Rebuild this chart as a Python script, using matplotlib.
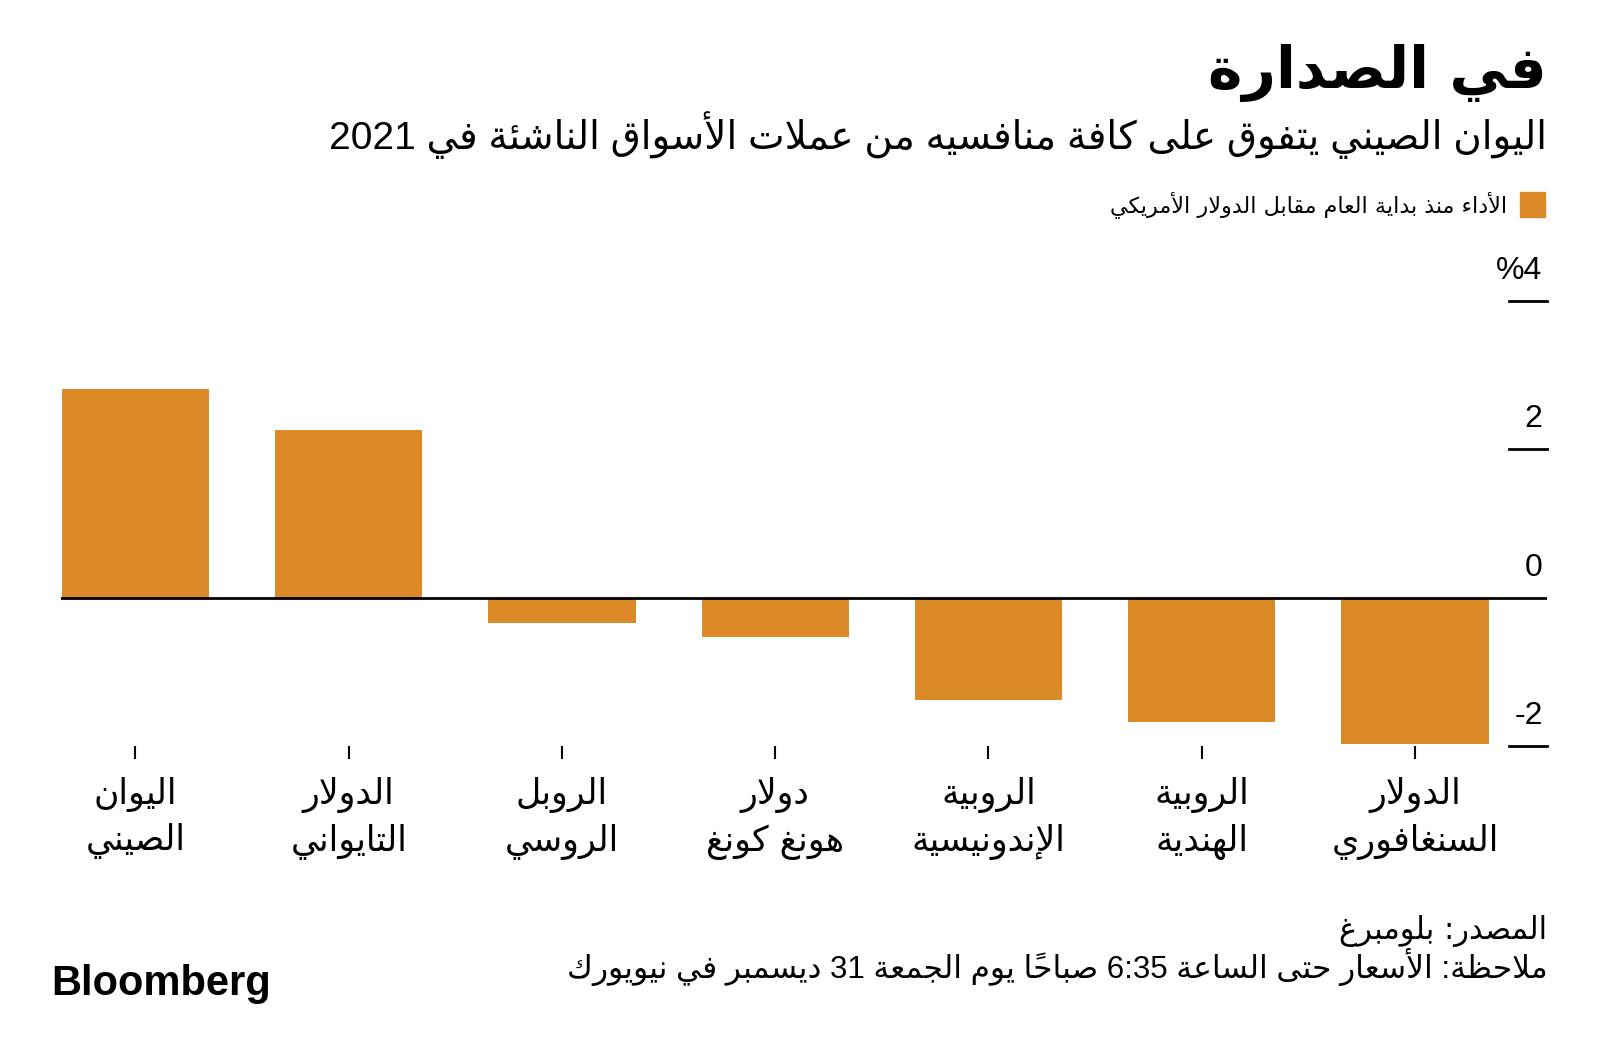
import matplotlib.pyplot as plt
import matplotlib.transforms as mtransforms

# data
names_top = ["اليوان", "الدولار", "الروبل", "دولار", "الروبية", "الروبية", "الدولار"]
names_bottom = ["الصيني", "التايواني", "الروسي", "هونغ كونغ", "الإندونيسية", "الهندية", "السنغافوري"]
ytd_change = [2.82, 2.26, -0.34, -0.53, -1.38, -1.67, -1.97]
y_ticks = [-2, 0, 2, 4]
y_tick_labels = ["-2", "0", "2", "%4"]

title = "في الصدارة"
subtitle = "اليوان الصيني يتفوق على كافة منافسيه من عملات الأسواق الناشئة في 2021"
legend_label = "الأداء منذ بداية العام مقابل الدولار الأمريكي"
source = "المصدر: بلومبرغ"
note = "ملاحظة: الأسعار حتى الساعة 6:35 صباحاً يوم الجمعة 31 ديسمبر في نيويورك"

ORANGE = "#DB8A27"
AR = ["DejaVu Sans"]
MIX = ["Liberation Sans", "DejaVu Sans"]

# --- minimal arabic shaping (matplotlib has no text layout engine) ---
_right = {'آ': 0xFE81, 'أ': 0xFE83, 'ؤ': 0xFE85, 'إ': 0xFE87, 'ا': 0xFE8D, 'ة': 0xFE93,
          'د': 0xFEA9, 'ذ': 0xFEAB, 'ر': 0xFEAD, 'ز': 0xFEAF, 'و': 0xFEED, 'ى': 0xFEEF}
_dual = {'ئ': 0xFE89, 'ب': 0xFE8F, 'ت': 0xFE95, 'ث': 0xFE99, 'ج': 0xFE9D, 'ح': 0xFEA1,
         'خ': 0xFEA5, 'س': 0xFEB1, 'ش': 0xFEB5, 'ص': 0xFEB9, 'ض': 0xFEBD, 'ط': 0xFEC1,
         'ظ': 0xFEC5, 'ع': 0xFEC9, 'غ': 0xFECD, 'ف': 0xFED1, 'ق': 0xFED5, 'ك': 0xFED9,
         'ل': 0xFEDD, 'م': 0xFEE1, 'ن': 0xFEE5, 'ه': 0xFEE9, 'ي': 0xFEF1}
_lamalef = {'آ': 0xFEF5, 'أ': 0xFEF7, 'إ': 0xFEF9, 'ا': 0xFEFB}


def shape(text):
    clusters = []
    for c in text:
        if '\u064B' <= c <= '\u0652' and clusters:
            clusters[-1] += c
        else:
            clusters.append(c)
    shaped = []
    j = 0
    while j < len(clusters):
        c, marks = clusters[j][0], clusters[j][1:]
        prev = clusters[j - 1][0] if j > 0 else ''
        nxt = clusters[j + 1][0] if j + 1 < len(clusters) else ''
        p = prev in _dual
        if c == 'ل' and nxt in _lamalef:
            shaped.append(chr(_lamalef[nxt] + (1 if p else 0)) + marks + clusters[j + 1][1:])
            j += 2
            continue
        if c in _dual:
            nx = nxt in _dual or nxt in _right
            form = (3 if nx else 1) if p else (2 if nx else 0)
            shaped.append(chr(_dual[c] + form) + marks)
        elif c in _right:
            shaped.append(chr(_right[c] + (1 if p else 0)) + marks)
        elif c == 'ء':
            shaped.append('\uFE80' + marks)
        else:
            shaped.append(clusters[j])
        j += 1
    runs = []
    for i, s in enumerate(shaped):
        ch = s[0]
        ltr = ch.isdigit() or (ch in ':.' and 0 < i < len(shaped) - 1
                               and shaped[i - 1][0].isdigit() and shaped[i + 1][0].isdigit())
        if ltr and runs and runs[-1][0]:
            runs[-1][1].append(s)
        else:
            runs.append([ltr, [s]])
    return ''.join(''.join(r[1]) for r in reversed(runs))


fig = plt.figure(figsize=(16, 10.6), dpi=100)
ax = fig.add_axes([0.038, 0.296, 0.929, 0.42])

x = list(range(len(ytd_change)))
ax.bar(x, ytd_change, width=0.69, color=ORANGE, zorder=2)
ax.set_xlim(-0.35, 6.62)
ax.set_ylim(-2, 4)

ax.axhline(0, color="black", lw=2, zorder=3)
ytrans = mtransforms.blended_transform_factory(ax.transAxes, ax.transData)
for v, lab in zip(y_ticks, y_tick_labels):
    if v != 0:
        ax.axhline(v, xmin=0.974, xmax=1, color="black", lw=2, zorder=3, clip_on=False)
    ax.text(0.997, v + 0.3, lab, transform=ytrans, ha="right", va="baseline", fontsize=23, family=MIX)

for s in ax.spines.values():
    s.set_visible(False)
ax.set_yticks([])
ax.set_xticks(x)
ax.set_xticklabels([shape(a) + "\n" + shape(b) for a, b in zip(names_top, names_bottom)],
                   family=AR, fontsize=25, linespacing=1.4)
ax.tick_params(axis="x", length=9, width=1.5, pad=13, colors="black")

# header
fig.text(0.967, 0.917, shape(title), ha="right", va="baseline", fontsize=42, weight="bold", family=AR)
fig.text(0.967, 0.859, shape(subtitle), ha="right", va="baseline", fontsize=28, family=MIX)
fig.patches.append(plt.Rectangle((1520 / 1600, 1 - 217 / 1060), 25 / 1600, 25 / 1060,
                                 transform=fig.transFigure, color=ORANGE))
fig.text(1507 / 1600, 1 - 212 / 1060, shape(legend_label), ha="right", va="baseline", fontsize=16, family=AR)

# footer
fig.text(0.967, 1 - 939 / 1060, shape(source), ha="right", va="baseline", fontsize=22, family=AR)
fig.text(0.967, 1 - 978 / 1060, shape(note), ha="right", va="baseline", fontsize=22.5, family=MIX)
fig.text(51 / 1600, 1 - 995 / 1060, "Bloomberg", ha="left", va="baseline", fontsize=30, weight="bold",
         family="Liberation Sans")

fig.savefig("out.png", dpi=100, facecolor="white")
